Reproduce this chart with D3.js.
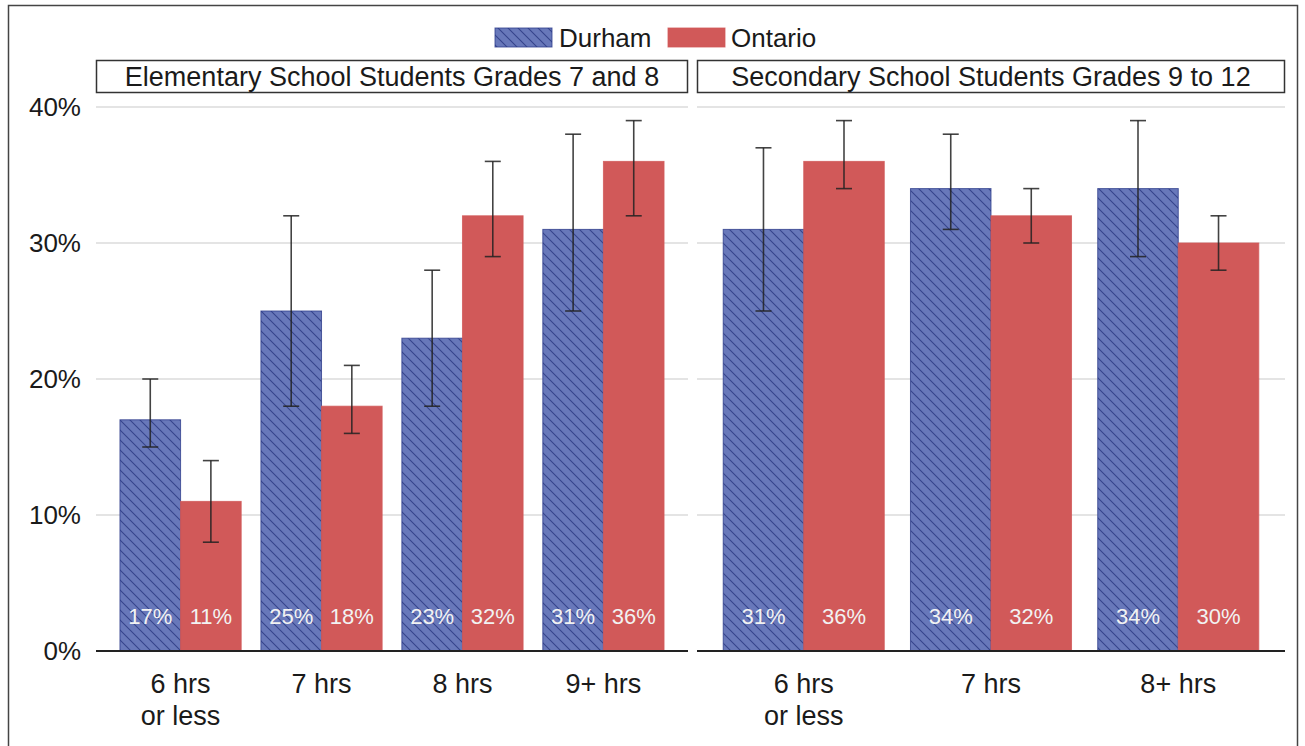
<!DOCTYPE html>
<html>
<head>
<meta charset="utf-8">
<script src="https://cdn.jsdelivr.net/npm/d3@7"></script>
<style>
  html, body { margin: 0; padding: 0; background: #fff; }
  svg { display: block; font-family: "Liberation Sans", Arial, sans-serif; }
</style>
</head>
<body>
<svg id="chart" width="1305" height="746"></svg>
<script>
// Hours of sleep on a school night, Durham vs Ontario, with 95% confidence intervals
const series = ["Durham", "Ontario"];

const elemCategories = ["6 hrs\nor less", "7 hrs", "8 hrs", "9+ hrs"];
const elemDurham = [17, 25, 23, 31];
const elemDurhamLow = [15, 18, 18, 25];
const elemDurhamHigh = [20, 32, 28, 38];
const elemOntario = [11, 18, 32, 36];
const elemOntarioLow = [8, 16, 29, 32];
const elemOntarioHigh = [14, 21, 36, 39];

const secCategories = ["6 hrs\nor less", "7 hrs", "8+ hrs"];
const secDurham = [31, 34, 34];
const secDurhamLow = [25, 31, 29];
const secDurhamHigh = [37, 38, 39];
const secOntario = [36, 32, 30];
const secOntarioLow = [34, 30, 28];
const secOntarioHigh = [39, 34, 32];

const panelTitles = ["Elementary School Students Grades 7 and 8", "Secondary School Students Grades 9 to 12"];
const yTicks = [0, 10, 20, 30, 40];

const colors = { Durham: "#6878ba", Ontario: "#d15959" };
const strokes = { Durham: "#2e3d8c", Ontario: "#d15959" };

const svg = d3.select("#chart");

// hatch pattern for the Durham bars
const defs = svg.append("defs");
const pat = defs.append("pattern")
  .attr("id", "hatch")
  .attr("patternUnits", "userSpaceOnUse")
  .attr("width", 10).attr("height", 10);
pat.append("rect").attr("width", 10).attr("height", 10).attr("fill", colors.Durham);
pat.append("path")
  .attr("d", "M-1,-1 L11,11 M-6,4 L6,16 M4,-6 L16,6")
  .attr("stroke", "#2b3a82").attr("stroke-width", 1.1).attr("stroke-opacity", 0.85);

const fillFor = s => s === "Durham" ? "url(#hatch)" : colors.Ontario;

// outer frame
svg.append("rect")
  .attr("x", 8.5).attr("y", 5.5).attr("width", 1289).attr("height", 760)
  .attr("fill", "none").attr("stroke", "#444").attr("stroke-width", 1.5);

const y = d3.scaleLinear().domain([0, 40]).range([651, 107]);

const panels = [
  { x0: 96, x1: 688, title: panelTitles[0], cats: elemCategories, outer: 0.17,
    vals: { Durham: elemDurham, Ontario: elemOntario },
    lo: { Durham: elemDurhamLow, Ontario: elemOntarioLow },
    hi: { Durham: elemDurhamHigh, Ontario: elemOntarioHigh } },
  { x0: 697, x1: 1285, title: panelTitles[1], cats: secCategories, outer: 0.14,
    vals: { Durham: secDurham, Ontario: secOntario },
    lo: { Durham: secDurhamLow, Ontario: secOntarioLow },
    hi: { Durham: secDurhamHigh, Ontario: secOntarioHigh } }
];

panels.forEach((p, pi) => {
  const g = svg.append("g");

  // gridlines
  g.selectAll(".grid").data(yTicks.filter(t => t > 0)).join("line")
    .attr("x1", p.x0).attr("x2", p.x1)
    .attr("y1", d => y(d)).attr("y2", d => y(d))
    .attr("stroke", "#e4e4e4").attr("stroke-width", 2);

  // panel header
  g.append("rect")
    .attr("x", p.x0 + 0.5).attr("y", 60.5).attr("width", p.x1 - p.x0 - 1).attr("height", 32)
    .attr("fill", "#fff").attr("stroke", "#333").attr("stroke-width", 1.5);
  g.append("text")
    .attr("x", (p.x0 + p.x1) / 2).attr("y", 77).attr("dy", "0.35em")
    .attr("text-anchor", "middle").attr("font-size", 27).attr("fill", "#1a1a1a")
    .text(p.title);

  const x = d3.scaleBand().domain(p.cats).range([p.x0, p.x1])
    .paddingInner(0.14).paddingOuter(p.outer);
  const xs = d3.scaleBand().domain(series).range([0, x.bandwidth()]);

  const rows = [];
  p.cats.forEach((c, i) => series.forEach(s => rows.push({
    cat: c, s, v: p.vals[s][i], lo: p.lo[s][i], hi: p.hi[s][i]
  })));

  // bars
  g.selectAll(".bar").data(rows).join("rect")
    .attr("x", d => x(d.cat) + xs(d.s))
    .attr("y", d => y(d.v))
    .attr("width", xs.bandwidth())
    .attr("height", d => y(0) - y(d.v))
    .attr("fill", d => fillFor(d.s))
    .attr("stroke", d => strokes[d.s]).attr("stroke-width", 1)
    .attr("stroke-opacity", 0.8);

  // error bars
  const cx = d => x(d.cat) + xs(d.s) + xs.bandwidth() / 2;
  const eb = g.selectAll(".err").data(rows).join("g").attr("stroke", "#222").attr("stroke-width", 1.6).attr("stroke-opacity", 0.85);
  eb.append("line").attr("x1", cx).attr("x2", cx).attr("y1", d => y(d.lo)).attr("y2", d => y(d.hi));
  eb.append("line").attr("x1", d => cx(d) - 8).attr("x2", d => cx(d) + 8).attr("y1", d => y(d.lo)).attr("y2", d => y(d.lo));
  eb.append("line").attr("x1", d => cx(d) - 8).attr("x2", d => cx(d) + 8).attr("y1", d => y(d.hi)).attr("y2", d => y(d.hi));

  // value labels
  g.selectAll(".val").data(rows).join("text")
    .attr("x", cx).attr("y", 616).attr("dy", "0.35em")
    .attr("text-anchor", "middle").attr("font-size", 22).attr("fill", "#f2f2f2")
    .text(d => d.v + "%");

  // baseline
  g.append("line").attr("x1", p.x0).attr("x2", p.x1).attr("y1", y(0)).attr("y2", y(0))
    .attr("stroke", "#222").attr("stroke-width", 2);

  // category labels
  const xAxis = g.append("g").attr("transform", `translate(0,${y(0)})`)
    .call(d3.axisBottom(x).tickSize(0).tickFormat(""));
  xAxis.select(".domain").remove();
  xAxis.selectAll(".tick").each(function(d) {
    const t = d3.select(this).append("text")
      .attr("text-anchor", "middle").attr("font-size", 27).attr("fill", "#1a1a1a");
    d.split("\n").forEach((line, li) => {
      t.append("tspan").attr("x", 0).attr("y", 33 + li * 32).attr("dy", "0.35em").text(line);
    });
  });

  // y axis on the left panel only
  if (pi === 0) {
    const yAxis = g.append("g").attr("transform", `translate(${p.x0},0)`)
      .call(d3.axisLeft(y).tickValues(yTicks).tickFormat(d => d + "%").tickSize(0).tickPadding(15));
    yAxis.select(".domain").remove();
    yAxis.selectAll("text").attr("font-size", 26).attr("fill", "#1a1a1a")
      .attr("font-family", "\"Liberation Sans\", Arial, sans-serif");
  }
});

// legend
const legend = svg.append("g");
const legendItems = [
  { s: "Durham", x: 495, tx: 559 },
  { s: "Ontario", x: 668, tx: 731 }
];
legendItems.forEach(it => {
  legend.append("rect").attr("x", it.x).attr("y", 28).attr("width", 57).attr("height", 19)
    .attr("fill", fillFor(it.s)).attr("stroke", strokes[it.s]).attr("stroke-opacity", 0.8);
  legend.append("text").attr("x", it.tx).attr("y", 38).attr("dy", "0.35em")
    .attr("font-size", 26).attr("fill", "#1a1a1a").text(it.s);
});
</script>
</body>
</html>
